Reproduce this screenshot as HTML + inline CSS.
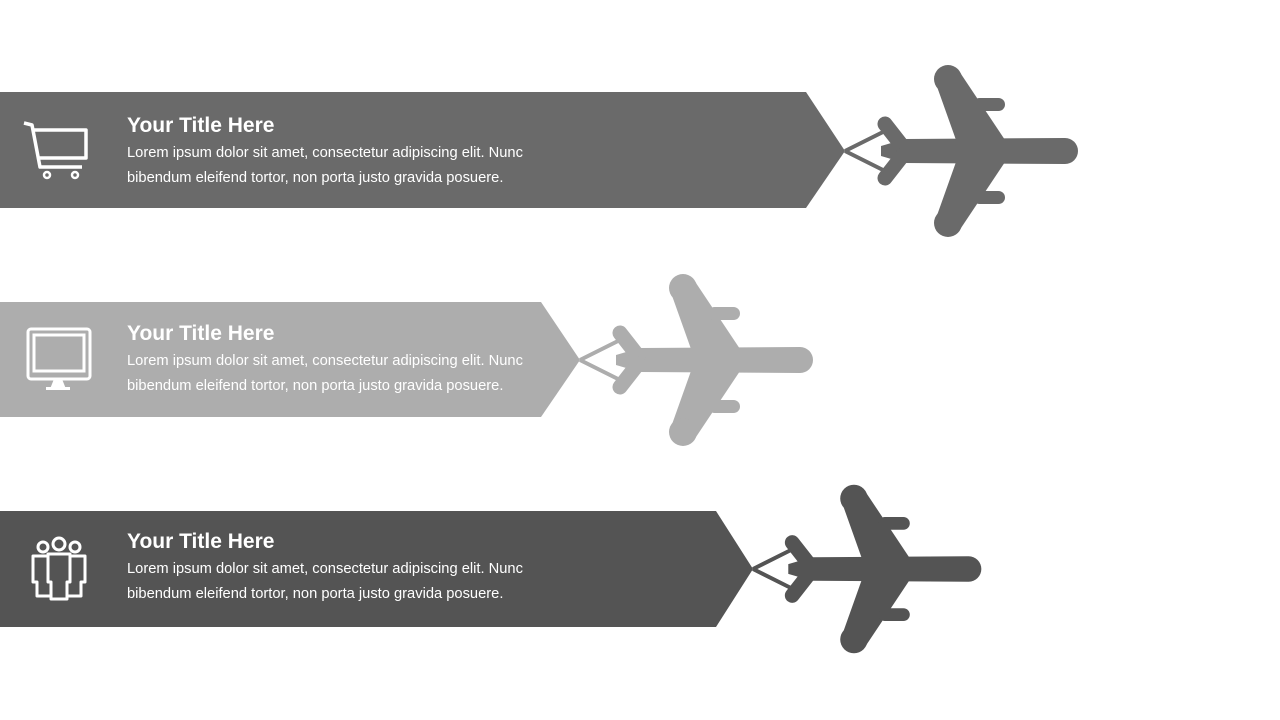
<!DOCTYPE html>
<html><head><meta charset="utf-8"><style>
html,body{margin:0;padding:0;background:#fff;}
body{width:1280px;height:720px;position:relative;overflow:hidden;font-family:"Liberation Sans",sans-serif;}
.t{position:absolute;left:127px;color:#fff;}
.t h{display:block;font-weight:bold;font-size:21px;line-height:26px;}
.t p{margin:2px 0 0 0;font-size:14.7px;line-height:25px;}
</style></head><body>
<svg width="1280" height="720" style="position:absolute;left:0;top:0">
<defs>
<g id="pl">
<line x1="0" y1="0" x2="40" y2="-20" stroke-width="4"/>
<line x1="0" y1="0" x2="40" y2="20" stroke-width="4"/>
<path d="M36,-5 L60,-12 L220,-13 A13,13 0 0 1 220,13 L60,12 L36,5 Z"/>
<line x1="40" y1="-27" x2="58" y2="-4" stroke-width="15" stroke-linecap="round"/>
<line x1="40" y1="27" x2="58" y2="4" stroke-width="15" stroke-linecap="round"/>
<polygon points="90,-70 114,-80 160,-11 111,-11"/>
<circle cx="103" cy="-72" r="14"/>
<polygon points="90,70 114,80 160,11 111,11"/>
<circle cx="103" cy="72" r="14"/>
<rect x="128" y="-53" width="32" height="13" rx="6.5"/>
<rect x="128" y="40" width="32" height="13" rx="6.5"/>
</g>
</defs>
<polygon points="0,92 806,92 845,151 806,208 0,208" fill="#6a6a6a"/>
<g transform="translate(845,151)" fill="#6a6a6a" stroke="#6a6a6a" stroke-width="0"><use href="#pl"/></g>
<polygon points="0,302 541,302 580,360 541,417 0,417" fill="#adadad"/>
<g transform="translate(580,360)" fill="#adadad" stroke="#adadad" stroke-width="0"><use href="#pl"/></g>
<polygon points="0,511 716,511 753,569 716,627 0,627" fill="#545454"/>
<g transform="translate(753,569) scale(0.98)" fill="#545454" stroke="#545454" stroke-width="0"><use href="#pl"/></g>
<g fill="none" stroke="#fff" stroke-width="3.5" stroke-linejoin="round">
<polyline points="24,123 32,125 40,167 82,167"/>
<polyline points="33,130 86,130 86,158 39,158"/>
<circle cx="47" cy="175" r="3" stroke-width="2.5"/><circle cx="75" cy="175" r="3" stroke-width="2.5"/>
</g>
<g fill="none" stroke="#fff" stroke-width="3">
<rect x="28" y="329" width="62" height="50" rx="3"/>
<rect x="34" y="335" width="50" height="36"/>
</g>
<polygon points="54,379 62,379 66,389 50,389" fill="#fff"/>
<rect x="46" y="387" width="24" height="3" fill="#fff"/>
<g fill="none" stroke="#fff" stroke-width="3" stroke-linejoin="round">
<circle cx="43" cy="547" r="5"/><circle cx="59" cy="544" r="6"/><circle cx="75" cy="547" r="5"/>
<path d="M33,556 h18 v40 h-14 v-14 h-4 z"/>
<path d="M67,556 h18 v26 h-4 v14 h-14 z"/>
<path d="M48,554 h22 v28 h-3 v17 h-16 v-17 h-3 z" fill="#545454"/>
</g>
</svg>
<div class="t" style="top:113px"><h>Your Title Here</h><p>Lorem ipsum dolor sit amet, consectetur adipiscing elit. Nunc<br>bibendum eleifend tortor, non porta justo gravida posuere.</p></div>
<div class="t" style="top:321px"><h>Your Title Here</h><p>Lorem ipsum dolor sit amet, consectetur adipiscing elit. Nunc<br>bibendum eleifend tortor, non porta justo gravida posuere.</p></div>
<div class="t" style="top:529px"><h>Your Title Here</h><p>Lorem ipsum dolor sit amet, consectetur adipiscing elit. Nunc<br>bibendum eleifend tortor, non porta justo gravida posuere.</p></div>
</body></html>
